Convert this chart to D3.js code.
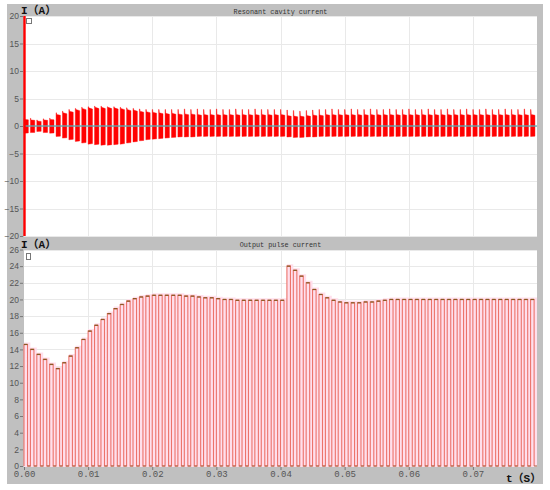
<!DOCTYPE html>
<html>
<head>
<meta charset="utf-8">
<script src="https://cdn.jsdelivr.net/npm/d3@7"></script>
<style>
  body { margin: 0; background: #fff; }
  .tick text { fill: #555; }
</style>
</head>
<body>
<div class="chart"></div>
<script>
// ---- data ----
// one pulse every millisecond
let period = 0.001
let xTicks = [0, 0.01, 0.02, 0.03, 0.04, 0.05, 0.06, 0.07]
let topTicks = [20, 15, 10, 5, 0, -5, -10, -15, -20]
let botTicks = [0, 2, 4, 6, 8, 10, 12, 14, 16, 18, 20, 22, 24, 26]

// resonant cavity current: spike top, plateau top, bottom of each burst (A)
let cavityHi = [1.4,1.4,1.1,1.3,1.4,2.4,2.7,3.0,3.2,3.4,
    3.5,3.6,3.6,3.5,3.5,3.4,3.3,3.2,3.1,3.0,
    3.0,3.0,3.0,3.0,3.0,3.1,3.0,3.1,3.0,3.0,
    3.1,3.0,3.0,3.1,3.0,3.0,3.1,3.0,3.0,3.0,
    3.0,2.9,2.8,2.7,2.8,2.9,3.0,3.0,3.1,3.0,
    3.0,3.1,3.0,3.0,3.1,3.0,3.0,3.1,3.0,3.0,
    3.1,3.0,3.0,3.1,3.0,3.0,3.1,3.0,3.0,3.1,
    3.0,3.0,3.1,3.0,3.0,3.1,3.0,3.0,3.1,3.0]
let cavityMid = [1.2,1.1,0.9,1.1,1.2,2.1,2.4,2.7,3.0,3.2,
    3.3,3.4,3.4,3.4,3.3,3.2,3.0,2.9,2.7,2.6,
    2.5,2.4,2.3,2.3,2.2,2.2,2.2,2.1,2.1,2.1,
    2.1,2.1,2.1,2.1,2.1,2.1,2.1,2.1,2.1,2.1,
    2.1,1.9,1.8,1.8,1.9,2.0,2.0,2.1,2.1,2.1,
    2.1,2.1,2.1,2.1,2.1,2.1,2.1,2.1,2.1,2.1,
    2.1,2.1,2.1,2.1,2.1,2.1,2.1,2.1,2.1,2.1,
    2.1,2.1,2.1,2.1,2.1,2.1,2.1,2.1,2.1,2.1]
let cavityLo = [-1.3,-1.2,-1.0,-1.2,-1.3,-1.9,-2.2,-2.5,-2.8,-3.1,
    -3.3,-3.4,-3.5,-3.5,-3.4,-3.3,-3.1,-2.9,-2.7,-2.5,
    -2.4,-2.3,-2.2,-2.1,-2.0,-2.0,-2.0,-1.9,-1.9,-1.9,
    -1.9,-1.9,-1.9,-1.9,-1.9,-1.9,-1.9,-1.9,-1.9,-1.9,
    -1.9,-2.0,-2.1,-2.1,-2.0,-2.0,-1.9,-1.9,-1.9,-1.9,
    -1.9,-1.9,-1.9,-1.9,-1.9,-1.9,-1.9,-1.9,-1.9,-1.9,
    -1.9,-1.9,-1.9,-1.9,-1.9,-1.9,-1.9,-1.9,-1.9,-1.9,
    -1.9,-1.9,-1.9,-1.9,-1.9,-1.9,-1.9,-1.9,-1.9,-1.9]
// start-up transient at t = 0
let cavitySpike = [20, -20]

// output pulse current: height of each pulse (A)
let outputPeak = [14.6,14.0,13.4,12.8,12.2,11.7,12.4,13.2,14.2,15.2,
    16.2,16.9,17.6,18.3,18.9,19.4,19.8,20.1,20.3,20.4,
    20.5,20.5,20.5,20.5,20.5,20.4,20.4,20.3,20.2,20.2,
    20.1,20.0,20.0,19.9,19.9,19.9,19.9,19.9,19.9,19.9,
    19.9,24.0,23.5,22.8,22.0,21.2,20.6,20.2,19.9,19.7,
    19.6,19.6,19.6,19.7,19.7,19.8,19.9,20.0,20.0,20.0,
    20.0,20.0,20.0,20.0,20.0,20.0,20.0,20.0,20.0,20.0,
    20.0,20.0,20.0,20.0,20.0,20.0,20.0,20.0,20.0,20.0]

// ---- layout ----
let svgWidth = 550
let svgHeight = 490
let plotLeft = 24, plotRight = 537
let top1 = 16, bottom1 = 237
let top2 = 250, bottom2 = 467

let svg = d3.select('.chart')
    .append('svg')
    .attr('width', svgWidth)
    .attr('height', svgHeight)
    .style('display', 'block')

let xScale = d3.scaleLinear().domain([0, 0.08]).range([plotLeft, plotRight])
let yTop = d3.scaleLinear().domain([-20, 20]).range([236, 16])
let yBot = d3.scaleLinear().domain([0, 26]).range([466, 249.5])

// gray frame + white plot areas
svg.append('rect').attr('x', 7).attr('y', 4).attr('width', 536).attr('height', 480).attr('fill', '#c0c0c0')
svg.append('rect').attr('x', plotLeft).attr('y', top1).attr('width', plotRight - plotLeft).attr('height', bottom1 - top1).attr('fill', '#fff')
svg.append('rect').attr('x', plotLeft).attr('y', top2).attr('width', plotRight - plotLeft).attr('height', bottom2 - top2).attr('fill', '#fff')

// grid
let grid = svg.append('g').attr('stroke', '#e9e9e9').attr('stroke-width', 1)
xTicks.slice(1).forEach(t => {
    grid.append('line').attr('x1', Math.round(xScale(t)) + 0.5).attr('x2', Math.round(xScale(t)) + 0.5).attr('y1', top1).attr('y2', bottom1)
    grid.append('line').attr('x1', Math.round(xScale(t)) + 0.5).attr('x2', Math.round(xScale(t)) + 0.5).attr('y1', top2).attr('y2', bottom2)
})
topTicks.forEach(v => {
    grid.append('line').attr('x1', plotLeft).attr('x2', plotRight).attr('y1', Math.round(yTop(v)) + 0.5).attr('y2', Math.round(yTop(v)) + 0.5)
})
botTicks.forEach(v => {
    grid.append('line').attr('x1', plotLeft).attr('x2', plotRight).attr('y1', Math.round(yBot(v)) + 0.5).attr('y2', Math.round(yBot(v)) + 0.5)
})

// ---- top panel: resonant cavity current ----
let line = d3.line().x(d => xScale(d[0])).y(d => d[1])
let burstWidth = 0.00068
let topG = svg.append('g')
cavityHi.forEach((hi, i) => {
    let t = i * period
    let pts = [
        [t, yTop(cavityLo[i])],
        [t, yTop(hi)],
        [t + 0.00006, yTop(hi)],
        [t + 0.0001, yTop(cavityMid[i])],
        [t + burstWidth, yTop(cavityMid[i] * 0.93)],
        [t + burstWidth, yTop(cavityLo[i] * 0.97)]
    ]
    topG.append('path')
        .attr('d', line(pts) + 'Z')
        .attr('fill', '#ff0000')
        .attr('stroke', '#ff0000')
        .attr('stroke-width', 0.4)
})
// zero line
topG.append('line')
    .attr('x1', plotLeft).attr('x2', plotRight)
    .attr('y1', yTop(0)).attr('y2', yTop(0))
    .attr('stroke', '#4fb6bf').attr('stroke-width', 1.6).attr('opacity', 0.85)
// start-up transient
topG.append('line')
    .attr('x1', xScale(0) + 0.5).attr('x2', xScale(0) + 0.5)
    .attr('y1', yTop(cavitySpike[0])).attr('y2', yTop(cavitySpike[1]))
    .attr('stroke', '#ff0000').attr('stroke-width', 2.4)

// ---- bottom panel: output pulse current ----
let duty = 0.55
let botG = svg.append('g')
let envelope = outputPeak.map((v, i) => [i * period, v])
envelope.push([0.08, outputPeak[outputPeak.length - 1]])
botG.append('path')
    .attr('d', d3.area()
        .x(d => xScale(d[0]))
        .y0(yBot(0) + 1)
        .y1(d => yBot(d[1]) - 2)
        .curve(d3.curveStepAfter)(envelope))
    .attr('fill', '#ffdfec')

let wave = []
outputPeak.forEach((v, i) => {
    let t = i * period
    wave.push([t, yBot(0)], [t, yBot(v)], [t + duty * period, yBot(v)], [t + duty * period, yBot(0)])
})
botG.append('path')
    .attr('d', line(wave))
    .attr('fill', 'none')
    .attr('stroke', '#ec736b')
    .attr('stroke-width', 1.1)
// darker flat tops and bottoms
outputPeak.forEach((v, i) => {
    let t = i * period
    botG.append('line')
        .attr('x1', xScale(t)).attr('x2', xScale(t + duty * period))
        .attr('y1', yBot(v)).attr('y2', yBot(v))
        .attr('stroke', '#8a5a24').attr('stroke-width', 1.3)
    botG.append('line')
        .attr('x1', xScale(t + duty * period)).attr('x2', xScale(t + period))
        .attr('y1', yBot(0)).attr('y2', yBot(0))
        .attr('stroke', '#a0603a').attr('stroke-width', 1)
})

// ---- axes ----
function styleAxis(g) {
    g.select('.domain').remove()
    g.selectAll('.tick line').attr('stroke', '#777')
    g.selectAll('.tick text')
        .attr('font-family', 'Liberation Sans, Arial, sans-serif')
        .attr('font-size', 8.5)
}

svg.append('g')
    .attr('transform', `translate(${plotLeft - 1},0)`)
    .call(d3.axisLeft(yTop).tickValues(topTicks).tickSize(3).tickPadding(1))
    .call(styleAxis)

svg.append('g')
    .attr('transform', `translate(${plotLeft - 1},0)`)
    .call(d3.axisLeft(yBot).tickValues(botTicks).tickSize(3).tickPadding(1))
    .call(styleAxis)

svg.append('g')
    .attr('transform', `translate(0,${bottom2})`)
    .call(d3.axisBottom(xScale).tickValues(xTicks).tickFormat(d3.format('.2f')).tickSize(3).tickPadding(1))
    .call(styleAxis)
    .selectAll('.tick text')
    .attr('font-family', 'Liberation Mono, monospace')
    .attr('font-size', 9)

// ---- titles ----
svg.append('text')
    .attr('x', (plotLeft + plotRight) / 2).attr('y', 13.5)
    .attr('text-anchor', 'middle')
    .attr('font-family', 'Liberation Mono, monospace').attr('font-size', 6.8)
    .attr('fill', '#333')
    .text('Resonant cavity current')
svg.append('text')
    .attr('x', (plotLeft + plotRight) / 2).attr('y', 247)
    .attr('text-anchor', 'middle')
    .attr('font-family', 'Liberation Mono, monospace').attr('font-size', 6.8)
    .attr('fill', '#333')
    .text('Output pulse current')

let unitFont = 'Liberation Mono, Noto Sans CJK SC, monospace'
svg.append('text').attr('x', 21).attr('y', 14)
    .attr('font-family', unitFont).attr('font-size', 11).attr('font-weight', 'bold').attr('fill', '#111')
    .text('I（A）')
svg.append('text').attr('x', 21).attr('y', 248)
    .attr('font-family', unitFont).attr('font-size', 11).attr('font-weight', 'bold').attr('fill', '#111')
    .text('I（A）')
svg.append('text').attr('x', 506).attr('y', 482)
    .attr('font-family', unitFont).attr('font-size', 11).attr('font-weight', 'bold').attr('fill', '#111')
    .text('t（S）')

// little cursor markers in the corners
svg.append('rect').attr('x', 26.5).attr('y', 18.5).attr('width', 5).attr('height', 5)
    .attr('fill', '#fff').attr('stroke', '#777').attr('stroke-width', 1)
svg.append('rect').attr('x', 26.5).attr('y', 253.5).attr('width', 4).attr('height', 6)
    .attr('fill', '#fff').attr('stroke', '#777').attr('stroke-width', 1)
</script>
</body>
</html>
